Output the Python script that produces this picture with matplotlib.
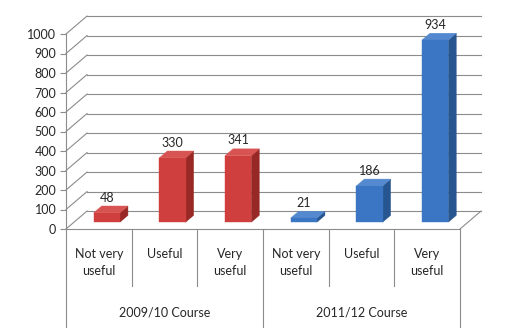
import matplotlib
matplotlib.use("Agg")
import matplotlib.pyplot as plt
from matplotlib.patches import Polygon

# survey answers per course
courses = ["2009/10 Course", "2011/12 Course"]
answers = ["Not very\nuseful", "Useful", "Very\nuseful"]
course_2009 = [48, 330, 341]
course_2011 = [21, 186, 934]
yticks = [0, 100, 200, 300, 400, 500, 600, 700, 800, 900, 1000]

values = course_2009 + course_2011
labels = answers * len(courses)

# face colours (front, side, top) for each course
red = ("#cf3f3d", "#982826", "#d85452")
blue = ("#3b76c4", "#27558f", "#5489cf")
colors = [red] * 3 + [blue] * 3

plt.rcParams["font.family"] = ["Lato", "DejaVu Sans"]

W, H = 508, 331
fig = plt.figure(figsize=(W / 100, H / 100), dpi=100)
fig.patch.set_facecolor("white")
ax = fig.add_axes([66 / W, 1 - 229 / H, 394 / W, 195 / H])
ax.set_xlim(0, 6)
ax.set_ylim(0, 1000)
ax.patch.set_alpha(0)

# oblique depth: back wall shift in x (categories) and y (value units)
DX = 0.32
DY = 92


def proj(x, v, d):
    return (x + d * DX, v + d * DY)


grid = "#8c8c8c"
# back wall gridlines and side wall diagonals
for t in yticks:
    ax.plot(*zip(proj(0, t, 1), proj(6, t, 1)), color=grid, lw=0.8, clip_on=False, zorder=1)
    ax.plot(*zip(proj(0, t, 0), proj(0, t, 1)), color=grid, lw=0.8, clip_on=False, zorder=1)
# floor edges
ax.plot(*zip(proj(0, 0, 0), proj(6, 0, 0)), color=grid, lw=0.8, clip_on=False, zorder=1)
ax.plot(*zip(proj(6, 0, 0), proj(6, 0, 1)), color=grid, lw=0.8, clip_on=False, zorder=1)

# 3d bars
bw = 0.40
d0, d1 = 0.38, 0.76
for i, (v, c) in enumerate(zip(values, colors)):
    xc = i + 0.5 + d0 * DX
    x0 = xc - bw / 2 - d0 * DX
    x1 = x0 + bw
    front = [proj(x0, 0, d0), proj(x1, 0, d0), proj(x1, v, d0), proj(x0, v, d0)]
    side = [proj(x1, 0, d0), proj(x1, 0, d1), proj(x1, v, d1), proj(x1, v, d0)]
    top = [proj(x0, v, d0), proj(x1, v, d0), proj(x1, v, d1), proj(x0, v, d1)]
    for pts, col in zip((side, top, front), (c[1], c[2], c[0])):
        ax.add_patch(Polygon(pts, closed=True, facecolor=col, edgecolor=col,
                             lw=0.3, clip_on=False, zorder=3))
    fx, fy = proj((x0 + x1) / 2, v, d0)
    ax.annotate(str(v), (fx, fy), xytext=(0, 11), textcoords="offset points",
                ha="center", va="center", fontsize=9, color="#262626",
                annotation_clip=False, zorder=4)

# value axis
ax.set_yticks(yticks)
ax.tick_params(axis="y", labelsize=9, labelcolor="#262626", color=grid,
               length=4, width=0.8, pad=3)
ax.set_xticks([])
for s in ("top", "right", "bottom"):
    ax.spines[s].set_visible(False)
ax.spines["left"].set_color(grid)
ax.spines["left"].set_linewidth(0.8)

# category axis: answers and course groups
xt = ax.get_xaxis_transform()
for i in range(7):
    low = -0.5 if i % 3 == 0 else -0.29
    ax.plot([i, i], [0, low], color=grid, lw=0.8, transform=xt, clip_on=False)
for i, lab in enumerate(labels):
    ax.text(i + 0.5, -0.095, lab, transform=xt, ha="center", va="top",
            fontsize=9, color="#262626", linespacing=1.5)
for g, name in enumerate(courses):
    ax.text(g * 3 + 1.5, -0.43, name, transform=xt, ha="center", va="center",
            fontsize=9, color="#262626")

fig.savefig("out.png", dpi=100, facecolor="white")
